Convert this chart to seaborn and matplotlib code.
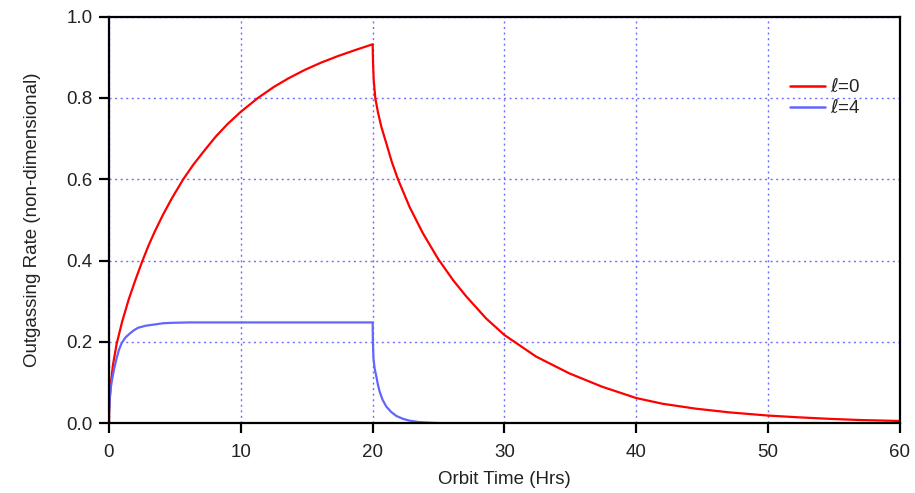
import numpy as np
import pandas as pd
import matplotlib
matplotlib.use("Agg")
import matplotlib.pyplot as plt
import seaborn as sns

# ---- data ----
red_t = [0.0, 0.01, 0.05, 0.15, 0.3, 0.58, 1.0, 1.5, 2.0, 2.52, 3.0, 3.48, 4.1, 4.75,
         5.63, 6.4, 7.27, 8.1, 9.0, 10.0, 11.3, 12.5, 13.6, 14.85, 16.1, 17.37, 18.7, 20.0,
         20.0, 20.03, 20.08, 20.2, 20.4, 20.66, 21.04, 21.45, 21.92, 22.8, 23.8, 24.95,
         26.1, 27.1, 28.6, 30.0, 32.4, 34.9, 37.4, 40.0, 42.0, 44.5, 47.0, 50.0, 52.3,
         54.6, 57.0, 60.0]
red_v = [0.0, 0.03, 0.06, 0.10, 0.143, 0.195, 0.25, 0.305, 0.352, 0.398, 0.437, 0.472, 0.513, 0.552,
         0.600, 0.636, 0.672, 0.705, 0.736, 0.766, 0.800, 0.827, 0.848, 0.869, 0.887, 0.903, 0.918, 0.932,
         0.932, 0.885, 0.844, 0.80, 0.765, 0.729, 0.688, 0.643, 0.600, 0.532, 0.468, 0.405,
         0.352, 0.312, 0.258, 0.217, 0.164, 0.123, 0.090, 0.062, 0.048, 0.036, 0.027, 0.019, 0.0147,
         0.011, 0.008, 0.0057]

blue_t = [0.0, 0.01, 0.076, 0.15, 0.25, 0.4, 0.58, 0.75, 0.96, 1.25, 1.59, 1.9, 2.22, 2.8,
          3.48, 4.1, 4.75, 6.0, 20.0,
          20.0, 20.02, 20.06, 20.15, 20.28, 20.4, 20.53, 20.75, 21.04, 21.4, 21.8, 22.3,
          22.8, 23.5, 24.6, 25.5, 60.0]
blue_v = [0.0, 0.03, 0.065, 0.09, 0.11, 0.135, 0.16, 0.18, 0.197, 0.211, 0.221, 0.229, 0.235, 0.240,
          0.243, 0.246, 0.247, 0.248, 0.248,
          0.248, 0.20, 0.16, 0.135, 0.115, 0.095, 0.078, 0.058, 0.041, 0.028, 0.018, 0.011,
          0.0065, 0.003, 0.001, 0.0, 0.0]

series_names = ["$\\ell$=0", "$\\ell$=4"]
colors = ["#ff0000", "#6464ff"]
x_ticks = [0, 10, 20, 30, 40, 50, 60]
y_ticks = [0.0, 0.2, 0.4, 0.6, 0.8, 1.0]

df = pd.concat([
    pd.DataFrame({"t": red_t, "v": red_v, "series": series_names[0]}),
    pd.DataFrame({"t": blue_t, "v": blue_v, "series": series_names[1]}),
], ignore_index=True)

sns.set_style("white")
plt.rcParams["font.family"] = ["Liberation Sans", "DejaVu Sans"]

fig = plt.figure(figsize=(9.15, 4.93), dpi=100)
ax = fig.add_axes([0.1191, 0.1414, 0.8645, 0.8249])

sns.lineplot(data=df, x="t", y="v", hue="series", palette=colors, sort=False,
             units="series", estimator=None, linewidth=1.6, ax=ax)

ax.set_xlim(0, 60)
ax.set_ylim(0, 1.0)
ax.set_xticks(x_ticks)
ax.set_yticks(y_ticks)
ax.set_xticklabels([str(v) for v in x_ticks])
ax.set_yticklabels([f"{v:.1f}" for v in y_ticks])
ax.grid(True, color="#7070ff", linestyle=(0, (1.5, 2.5)), linewidth=1.0)
ax.set_axisbelow(True)

for s in ax.spines.values():
    s.set_visible(True)
    s.set_color("black")
    s.set_linewidth(1.6)

ax.tick_params(axis="both", direction="out", length=7, width=1.6, color="black",
               labelsize=13.5, labelcolor="#222222", bottom=True, left=True)
ax.tick_params(axis="x", pad=8)
ax.tick_params(axis="y", pad=5)

ax.set_xlabel("Orbit Time (Hrs)", fontsize=13.5, color="#222222", labelpad=7)
ax.set_ylabel("Outgassing Rate (non-dimensional)", fontsize=13.5, color="#222222", labelpad=18)

leg = ax.legend(loc="upper right", bbox_to_anchor=(0.972, 0.892), frameon=False,
                fontsize=13.5, handlelength=1.85, handletextpad=0.3, labelspacing=0.1,
                title=None)
for line in leg.get_lines():
    line.set_linewidth(1.8)

fig.savefig("out.png", dpi=100)
